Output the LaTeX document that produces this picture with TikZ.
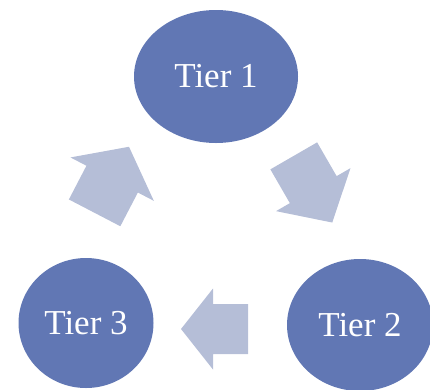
\documentclass[tikz,border=0pt]{standalone}
\usepackage{fontspec}
\setmainfont{Liberation Serif}
\usepackage{tikz}
\usetikzlibrary{shapes.geometric}
\definecolor{tierblue}{RGB}{97,119,180}
\definecolor{arrowblue}{RGB}{181,190,215}
\tikzset{
  tier/.style={ellipse, fill=tierblue, text=white, inner sep=0pt, font=\fontsize{35}{40}\selectfont},
}
% block arrow: center, angle, length, head length, head half width, shaft half width
\newcommand{\cyclearrow}[6]{%
  \begin{scope}[shift={(#1)}, rotate=#2]
    \fill[arrowblue] (-#3/2, -#6) -- (#3/2-#4, -#6) -- (#3/2-#4, -#5) -- (#3/2, 0)
      -- (#3/2-#4, #5) -- (#3/2-#4, #6) -- (-#3/2, #6) -- cycle;
  \end{scope}}
\begin{document}
\begin{tikzpicture}[x=1pt, y=-1pt]
\useasboundingbox (0,0) rectangle (430,389);
%%% The three tiers
\node[tier, minimum width=164pt, minimum height=133pt] (tier1) at (216,76.5) {Tier 1};
\node[tier, minimum width=146pt, minimum height=132pt] (tier2) at (360,325) {Tier 2};
\node[tier, minimum width=135pt, minimum height=130pt] (tier3) at (86,323) {Tier 3};
%%% The arrows between the tiers
\cyclearrow{313,189.2}{-60}{77}{38}{43}{27}
\cyclearrow{214.5,329}{180}{67}{32}{40.5}{25}
\cyclearrow{111.8,179.8}{62.5}{74.5}{36.5}{47}{29}
\end{tikzpicture}
\end{document}
